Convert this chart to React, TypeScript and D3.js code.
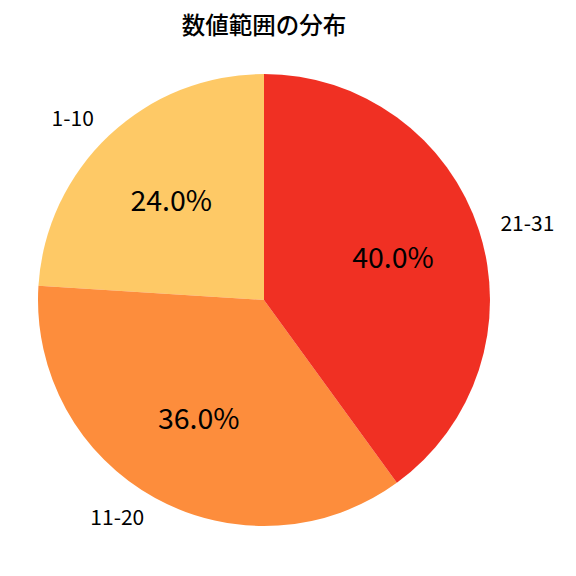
import React from "react";
import * as d3 from "d3";

const categories = ["1-10", "11-20", "21-31"];
const values = [24, 36, 40];
const colors = ["#fec966", "#fd8d3c", "#f03023"];
const title = "数値範囲の分布";

const W = 576;
const H = 576;
const CX = 264;
const CY = 300;
const R = 226;
const FONT = "'Noto Sans CJK JP', 'Noto Sans', sans-serif";

export default function App() {
  const total = d3.sum(values);
  // counterclockwise from 12 o'clock (matplotlib startangle=90)
  const pie = d3
    .pie<number>()
    .sort(null)
    .startAngle(0)
    .endAngle(-2 * Math.PI)
    .value((d) => d);
  const arcs = pie(values);
  const arc = d3.arc<d3.PieArcDatum<number>>().innerRadius(0).outerRadius(R);

  return (
    <svg
      width={W}
      height={H}
      style={{ position: "fixed", left: 0, top: 0, background: "#fff" }}
      fontFamily={FONT}
    >
      <rect width={W} height={H} fill="#fff" />
      <text x={CX} y={24} textAnchor="middle" dominantBaseline="central" fontSize={23.5} fontWeight={500} fill="#000">
        {title}
      </text>
      <g transform={`translate(${CX},${CY})`}>
        {arcs.map((a, i) => (
          <path key={categories[i]} d={arc(a) || ""} fill={colors[i]} />
        ))}
        {arcs.map((a, i) => {
          const mid = (a.startAngle + a.endAngle) / 2;
          const sx = Math.sin(mid);
          const sy = -Math.cos(mid);
          const lx = sx * R * 1.1;
          const ly = sy * R * 1.1;
          const px = sx * R * 0.6;
          const py = sy * R * 0.6;
          return (
            <g key={"t" + categories[i]}>
              <text
                x={lx}
                y={ly - 1.5}
                textAnchor={lx < 0 ? "end" : "start"}
                dominantBaseline="central"
                fontSize={21}
                fill="#000"
              >
                {categories[i]}
              </text>
              <text
                x={px}
                y={py - 2.5}
                textAnchor="middle"
                dominantBaseline="central"
                fontSize={28.5}
                fill="#000"
              >
                {((values[i] / total) * 100).toFixed(1) + "%"}
              </text>
            </g>
          );
        })}
      </g>
    </svg>
  );
}
